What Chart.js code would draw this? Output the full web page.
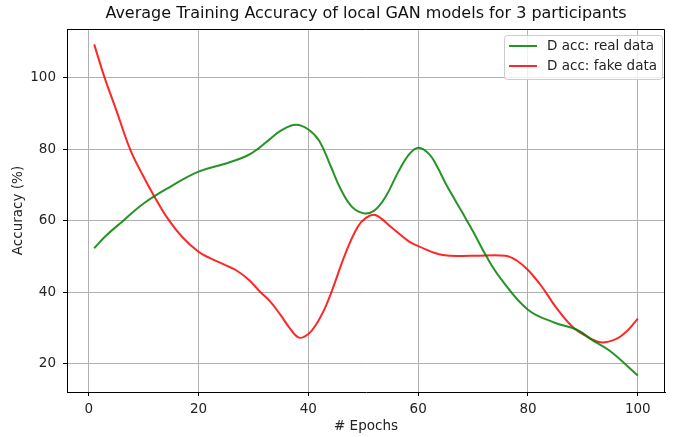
<!DOCTYPE html>
<html>
<head>
<meta charset="utf-8">
<script src="https://cdn.jsdelivr.net/npm/chart.js@4.4.0/dist/chart.umd.min.js"></script>
<style>
  html, body { margin: 0; padding: 0; background: #fff; }
  #wrap { width: 683px; height: 437px; }
</style>
</head>
<body>
<div id="wrap"><canvas id="accChart" width="683" height="437"></canvas></div>
<script>
// values
let realEpochs = [1, 3, 6.3, 10, 15, 20, 25, 29, 31, 33, 35, 37.7, 40, 42, 44, 46, 48, 50.1, 52, 54, 56.5, 58.5, 60.1, 62, 63.5, 65, 68, 70, 72.4, 75, 80, 85, 88.9, 92, 95, 100];
let realAcc = [52.3, 55.6, 60, 64.8, 69.6, 73.7, 76.0, 78.3, 80.3, 82.8, 85.2, 86.8, 85.5, 82.3, 75.5, 68.5, 63.8, 62.1, 62.8, 66.5, 74, 78.8, 80.4, 78.6, 75, 70.4, 62.4, 57, 50.1, 43.9, 35.1, 31.4, 29.5, 26.3, 23.5, 16.7];

let fakeEpochs = [1, 2.9, 5, 7.66, 10, 11.8, 14, 17, 20, 22, 25, 27, 29.2, 31.3, 33, 35, 36.5, 38.3, 40, 41.5, 43, 44.2, 46.8, 49, 50.5, 52.2, 55, 58.3, 60, 64.5, 70, 75.9, 78, 80, 82.5, 85, 88, 90.5, 93.2, 96, 98, 100];
let fakeAcc = [109.3, 100, 91, 79.5, 72.3, 67.2, 61.5, 55.5, 51.3, 49.6, 47.5, 46, 43.4, 40, 37.5, 33.5, 30.2, 27.3, 28.3, 31.2, 35.5, 40, 51, 58.3, 60.8, 61.6, 58.3, 54.2, 52.9, 50.4, 50.2, 50.2, 48.8, 46.2, 41.6, 36, 30.5, 27.8, 26, 26.9, 29.1, 32.6];

let seriesLabels = ["D acc: real data", "D acc: fake data"];
let xTicks = [0, 20, 40, 60, 80, 100];
let yTicks = [20, 40, 60, 80, 100];

function toPoints(xs, ys) {
  return xs.map((x, i) => ({ x: x, y: ys[i] }));
}

const FONT = "'DejaVu Sans', sans-serif";

// top/right spines + legend box in upper right, like matplotlib
const frameAndLegend = {
  id: "frameAndLegend",
  afterDraw(chart) {
    const ctx = chart.ctx;
    const a = chart.chartArea;
    ctx.save();
    ctx.strokeStyle = "#000";
    ctx.lineWidth = 1;
    ctx.beginPath();
    ctx.moveTo(a.left, a.top + 0.5);
    ctx.lineTo(a.right - 0.5, a.top + 0.5);
    ctx.lineTo(a.right - 0.5, a.bottom);
    ctx.stroke();

    // legend
    const bx = a.right - 161, by = a.top + 6, bw = 158, bh = 44;
    ctx.fillStyle = "rgba(255,255,255,0.8)";
    ctx.strokeStyle = "#cccccc";
    ctx.beginPath();
    ctx.roundRect(bx + 0.5, by + 0.5, bw, bh, 3);
    ctx.fill();
    ctx.stroke();
    ctx.font = "13.5px " + FONT;
    ctx.textBaseline = "middle";
    ctx.fillStyle = "#222";
    chart.data.datasets.forEach((ds, i) => {
      const y = by + 11 + i * 20;
      ctx.strokeStyle = ds.borderColor;
      ctx.lineWidth = 2;
      ctx.beginPath();
      ctx.moveTo(bx + 5, y);
      ctx.lineTo(bx + 33, y);
      ctx.stroke();
      ctx.fillText(ds.label, bx + 43, y);
    });
    ctx.restore();
  }
};

const ctx = document.getElementById("accChart");

new Chart(ctx, {
  type: "line",
  data: {
    datasets: [
      {
        label: seriesLabels[0],
        data: toPoints(realEpochs, realAcc),
        borderColor: "rgba(0,128,0,0.85)",
        borderWidth: 2,
        pointRadius: 0,
        tension: 0.4,
        fill: false,
      },
      {
        label: seriesLabels[1],
        data: toPoints(fakeEpochs, fakeAcc),
        borderColor: "rgba(255,0,0,0.85)",
        borderWidth: 2,
        pointRadius: 0,
        tension: 0.4,
        fill: false,
      },
    ],
  },
  options: {
    responsive: false,
    animation: false,
    layout: { padding: { left: 0, right: 18, top: 0, bottom: 0 } },
    plugins: {
      legend: { display: false },
      tooltip: { enabled: false },
      title: {
        display: true,
        text: "Average Training Accuracy of local GAN models for 3 participants",
        fullSize: false,
        color: "#111",
        font: { family: FONT, size: 16, weight: "normal" },
        padding: { top: 4, bottom: 5.8 },
      },
    },
    scales: {
      x: {
        type: "linear",
        min: -3.95,
        max: 104.95,
        afterBuildTicks: (scale) => { scale.ticks = xTicks.map((v) => ({ value: v })); },
        afterFit: (scale) => { scale.height = 45; },
        grid: { color: "#b0b0b0", lineWidth: 1, tickColor: "#000", tickLength: 4 },
        border: { color: "#000", width: 1 },
        ticks: { color: "#222", font: { family: FONT, size: 13.5 }, padding: 5, maxRotation: 0 },
        title: { display: true, text: "# Epochs", color: "#222", font: { family: FONT, size: 13.5 }, padding: { top: 0, bottom: 2 } },
      },
      y: {
        type: "linear",
        min: 12.1,
        max: 113.6,
        afterBuildTicks: (scale) => { scale.ticks = yTicks.map((v) => ({ value: v })); },
        afterFit: (scale) => { scale.width = 67; },
        grid: { color: "#b0b0b0", lineWidth: 1, tickColor: "#000", tickLength: 4 },
        border: { color: "#000", width: 1 },
        ticks: { color: "#222", font: { family: FONT, size: 13.5 }, padding: 7 },
        title: { display: true, text: "Accuracy (%)", color: "#222", font: { family: FONT, size: 13.5 }, padding: { top: 10, bottom: 0 } },
      },
    },
  },
  plugins: [frameAndLegend],
});
</script>
</body>
</html>
